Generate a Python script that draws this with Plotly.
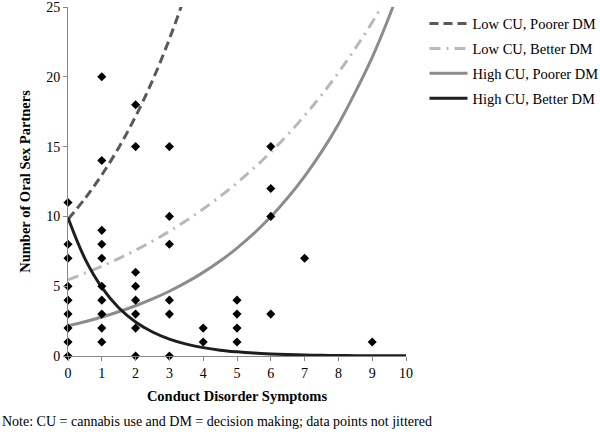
import plotly.graph_objects as go

# Observed data points (Conduct Disorder Symptoms, Number of Oral Sex Partners)
cd_symptoms = [0, 0, 0, 0, 0, 0, 0, 0, 0,
               1, 1, 1, 1, 1, 1, 1, 1, 1, 1,
               2, 2, 2, 2, 2, 2, 2, 2,
               3, 3, 3, 3, 3, 3,
               4, 4,
               5, 5, 5, 5,
               6, 6, 6, 6,
               7,
               9]
partners = [0, 1, 2, 3, 4, 5, 7, 8, 11,
            1, 2, 3, 4, 5, 7, 8, 9, 14, 20,
            0, 2, 3, 4, 5, 6, 15, 18,
            0, 3, 4, 8, 10, 15,
            1, 2,
            1, 2, 3, 4,
            3, 10, 12, 15,
            7,
            1]

# Predicted curves
curve_x = [0, 0.5, 1, 1.5, 2, 2.5, 3, 3.5, 4, 4.5, 5, 5.5, 6, 6.5, 7, 7.5, 8, 8.5, 9, 9.5, 10]
low_cu_poorer_x = [0, 0.5, 1, 1.5, 2, 2.5, 3, 3.5, 4]
low_cu_poorer = [9.8, 11.27, 12.97, 14.92, 17.16, 19.74, 22.71, 26.12, 30.05]
low_cu_better = [5.46, 5.93, 6.43, 6.98, 7.58, 8.23, 8.93, 9.70, 10.53, 11.43, 12.40,
                 13.46, 14.61, 15.86, 17.22, 18.69, 20.29, 22.03, 23.91, 25.96, 28.2]
high_cu_poorer = [2.16, 2.45, 2.79, 3.17, 3.60, 4.09, 4.64, 5.27, 5.99, 6.80, 7.73,
                  8.78, 9.97, 11.33, 12.87, 14.62, 16.6, 18.9, 21.4, 24.3, 27.6]
high_cu_better = [9.9, 6.98, 4.92, 3.46, 2.44, 1.72, 1.21, 0.85, 0.60, 0.42, 0.30,
                  0.21, 0.15, 0.105, 0.074, 0.052, 0.037, 0.026, 0.018, 0.013, 0.009]

x_ticks = [0, 1, 2, 3, 4, 5, 6, 7, 8, 9, 10]
y_ticks = [0, 5, 10, 15, 20, 25]

FONT = "Liberation Serif, Times New Roman, serif"

fig = go.Figure()

fig.add_trace(go.Scatter(
    x=low_cu_poorer_x, y=low_cu_poorer, mode="lines", name="Low CU, Poorer DM",
    line=dict(color="#595959", width=3, dash="9px,5px", shape="spline"),
    legendgroup="a"))
fig.add_trace(go.Scatter(
    x=curve_x, y=low_cu_better, mode="lines", name="Low CU, Better DM",
    line=dict(color="#b8b8b8", width=3, dash="11px,6px,2px,6px", shape="spline"),
    legendgroup="b"))
fig.add_trace(go.Scatter(
    x=curve_x, y=high_cu_poorer, mode="lines", name="High CU, Poorer DM",
    line=dict(color="#8c8c8c", width=3, shape="spline"),
    legendgroup="c"))
fig.add_trace(go.Scatter(
    x=curve_x, y=high_cu_better, mode="lines", name="High CU, Better DM",
    line=dict(color="#1e1e1e", width=3, shape="spline"),
    legendgroup="d"))

fig.add_trace(go.Scatter(
    x=cd_symptoms, y=partners, mode="markers", showlegend=False,
    marker=dict(symbol="diamond", size=7, color="black"),
    cliponaxis=False))

fig.update_layout(
    width=600, height=438,
    margin=dict(l=68, r=194, t=7, b=82, autoexpand=False),
    plot_bgcolor="white", paper_bgcolor="white",
    font=dict(family=FONT, size=14, color="black"),
    showlegend=True,
    legend=dict(x=1.0547, y=0.998, xanchor="left", yanchor="top",
                font=dict(family=FONT, size=14.5, color="black"),
                itemwidth=38,
                tracegroupgap=3, bgcolor="rgba(0,0,0,0)"),
    xaxis=dict(range=[0, 10], tickvals=x_ticks, ticktext=[str(v) for v in x_ticks],
               showgrid=False, zeroline=False, showline=True, linecolor="#888888",
               linewidth=1, ticks="outside", ticklen=4, tickcolor="#888888",
               tickfont=dict(family=FONT, size=14), automargin=False,
               ticklabeloverflow="allow",
               title=dict(text="<b>Conduct Disorder Symptoms</b>",
                          font=dict(family=FONT, size=14.5), standoff=11)),
    yaxis=dict(range=[0, 25], tickvals=y_ticks, ticktext=[str(v) for v in y_ticks],
               showgrid=False, zeroline=False, showline=True, linecolor="#888888",
               linewidth=1, ticks="outside", ticklen=4, tickcolor="#888888",
               tickfont=dict(family=FONT, size=14), automargin=False,
               ticklabeloverflow="allow",
               title=dict(text="<b>Number of Oral Sex Partners</b>",
                          font=dict(family=FONT, size=14.5), standoff=12)),
    annotations=[dict(
        text="Note: CU = cannabis use and DM = decision making; data points not jittered",
        xref="paper", yref="paper", x=-0.2, y=-0.188, xanchor="left", yanchor="middle",
        showarrow=False, font=dict(family=FONT, size=14, color="black"))],
)

fig.write_html("out.html", config={"displayModeBar": False},
               post_script="document.body.style.margin='0px';document.body.style.overflow='hidden';")
